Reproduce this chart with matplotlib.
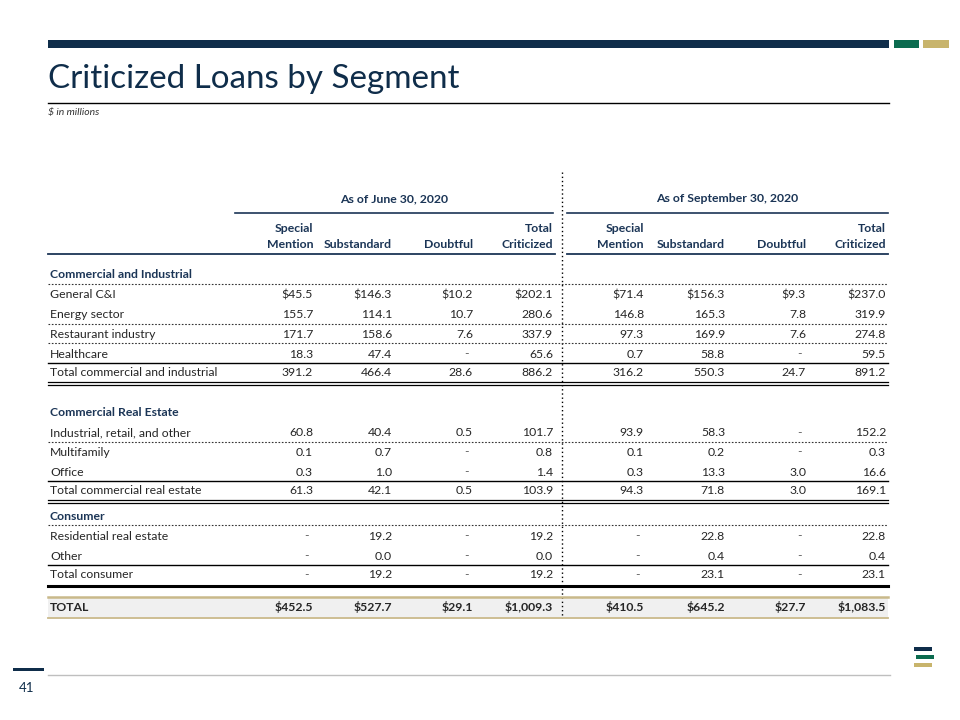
import matplotlib
matplotlib.use('Agg')
import matplotlib.pyplot as plt
from matplotlib.patches import Rectangle

plt.rcParams['font.family'] = ['Lato', 'DejaVu Sans']

# ---------------- data ----------------
title = "Criticized Loans by Segment"
subtitle = "$ in millions"
page_number = "41"
period_labels = ["As of June 30, 2020", "As of September 30, 2020"]
col_line1 = ["Special", "", "", "Total"]
col_line2 = ["Mention", "Substandard", "Doubtful", "Criticized"]

section_names = ["Commercial and Industrial", "Commercial Real Estate", "Consumer"]

ci_labels = ["General C&I", "Energy sector", "Restaurant industry", "Healthcare",
             "Total commercial and industrial"]
ci_jun_sm = [45.5, 155.7, 171.7, 18.3, 391.2]
ci_jun_sub = [146.3, 114.1, 158.6, 47.4, 466.4]
ci_jun_dbt = [10.2, 10.7, 7.6, None, 28.6]
ci_jun_tot = [202.1, 280.6, 337.9, 65.6, 886.2]
ci_sep_sm = [71.4, 146.8, 97.3, 0.7, 316.2]
ci_sep_sub = [156.3, 165.3, 169.9, 58.8, 550.3]
ci_sep_dbt = [9.3, 7.8, 7.6, None, 24.7]
ci_sep_tot = [237.0, 319.9, 274.8, 59.5, 891.2]

cre_labels = ["Industrial, retail, and other", "Multifamily", "Office",
              "Total commercial real estate"]
cre_jun_sm = [60.8, 0.1, 0.3, 61.3]
cre_jun_sub = [40.4, 0.7, 1.0, 42.1]
cre_jun_dbt = [0.5, None, None, 0.5]
cre_jun_tot = [101.7, 0.8, 1.4, 103.9]
cre_sep_sm = [93.9, 0.1, 0.3, 94.3]
cre_sep_sub = [58.3, 0.2, 13.3, 71.8]
cre_sep_dbt = [None, None, 3.0, 3.0]
cre_sep_tot = [152.2, 0.3, 16.6, 169.1]

con_labels = ["Residential real estate", "Other", "Total consumer"]
con_jun_sm = [None, None, None]
con_jun_sub = [19.2, 0.0, 19.2]
con_jun_dbt = [None, None, None]
con_jun_tot = [19.2, 0.0, 19.2]
con_sep_sm = [None, None, None]
con_sep_sub = [22.8, 0.4, 23.1]
con_sep_dbt = [None, None, None]
con_sep_tot = [22.8, 0.4, 23.1]

total_label = "TOTAL"
total_jun = [452.5, 527.7, 29.1, 1009.3]
total_sep = [410.5, 645.2, 27.7, 1083.5]

# ---------------- style ----------------
NAVY = '#0f2d4a'
GREEN = '#0b6b4f'
GOLD = '#c8b46c'
TEXT = '#262626'
HEAD = '#1b3556'
GOLDLINE = '#c9b98a'
BASE = 4.5  # baseline offset below row centre (pixels)

fig = plt.figure(figsize=(9.6, 7.2), dpi=100)
ax = fig.add_axes([0, 0, 1, 1])
ax.set_xlim(0, 960)
ax.set_ylim(720, 0)
ax.axis('off')
renderer = fig.canvas.get_renderer()


def fit_size(txt, target_w, **kw):
    t = ax.text(0, 0, txt, fontsize=20, **kw)
    w = t.get_window_extent(renderer).width
    t.remove()
    return 20 * target_w / w


def put(x, yc, s, ha='left', **kw):
    ax.text(x, yc + BASE, s, ha=ha, va='baseline', **kw)


# header band
ax.add_patch(Rectangle((48, 40), 841, 8, color=NAVY, lw=0))
ax.add_patch(Rectangle((894, 40), 25, 8, color=GREEN, lw=0))
ax.add_patch(Rectangle((923, 40), 26, 8, color=GOLD, lw=0))

tsize = fit_size(title, 412)
ax.text(48, 88, title, fontsize=tsize, color=NAVY, va='baseline', ha='left')
ax.plot([48, 889], [103, 103], color='black', lw=1)
ax.text(48, 113, subtitle, fontsize=7.5, style='italic', color='#333333', va='center', ha='left')

# body font size
bsize = fit_size("Total commercial and industrial", 168)

# columns
left_cols = [313, 392, 473, 553]
right_cols = [644, 725, 806, 886]
label_x = 50
sep_x = 562

# group headers
put((235 + 553) / 2, 198, period_labels[0], ha='center', fontsize=bsize, fontweight='bold', color=HEAD)
put((567 + 888) / 2, 198, period_labels[1], ha='center', fontsize=bsize, fontweight='bold', color=HEAD)
ax.plot([235, 553], [213, 213], color=HEAD, lw=1.2)
ax.plot([567, 888], [213, 213], color=HEAD, lw=1.2)
for cols in (left_cols, right_cols):
    for x, l1, l2 in zip(cols, col_line1, col_line2):
        if l1:
            put(x, 227, l1, ha='right', fontsize=bsize, fontweight='bold', color=HEAD)
        put(x, 243, l2, ha='right', fontsize=bsize, fontweight='bold', color=HEAD)
ax.plot([48, 555], [254, 254], color=HEAD, lw=1.3)
ax.plot([567, 888], [254, 254], color=HEAD, lw=1.3)

# vertical dotted separator
ax.plot([sep_x, sep_x], [172, 618], color='black', lw=1, linestyle=(0, (1, 2)))


def fmt(v, dollar=False):
    if v is None:
        return None
    s = f"{v:,.1f}"
    return ("$" + s) if dollar else s


def hline(y, kind):
    if kind == 'dot':
        ax.plot([48, 888], [y, y], color='#333333', lw=0.8, linestyle=(0, (1.5, 1.5)))
    elif kind == 'solid':
        ax.plot([48, 888], [y, y], color='black', lw=1)
    elif kind == 'double':
        ax.plot([48, 888], [y, y], color='black', lw=0.9)
        ax.plot([48, 888], [y + 3, y + 3], color='black', lw=0.9)
    elif kind == 'thick':
        ax.plot([48, 888], [y, y], color='black', lw=2.2)


def draw_row(y, label, jun, sep, dollar=False, bold=False):
    w = 'bold' if bold else 'normal'
    put(label_x, y, label, fontsize=bsize, color=TEXT, fontweight=w)
    for cols, vals in ((left_cols, jun), (right_cols, sep)):
        for x, v in zip(cols, vals):
            s = fmt(v, dollar)
            if s is None:
                put(x - 4, y, "-", ha='right', fontsize=bsize, color='#555555')
            else:
                put(x, y, s, ha='right', fontsize=bsize, color=TEXT, fontweight=w)


def section_header(y, name):
    put(label_x, y, name, fontsize=bsize, fontweight='bold', color=HEAD)


# ---- Commercial and Industrial
section_header(274, section_names[0])
ci_y = [294, 314, 333, 353, 372]
for i, y in enumerate(ci_y):
    draw_row(y, ci_labels[i],
             [ci_jun_sm[i], ci_jun_sub[i], ci_jun_dbt[i], ci_jun_tot[i]],
             [ci_sep_sm[i], ci_sep_sub[i], ci_sep_dbt[i], ci_sep_tot[i]],
             dollar=(i == 0))
hline(284, 'dot')
hline(323.5, 'dot')
hline(343, 'dot')
hline(362.5, 'solid')
hline(382, 'double')

# ---- Commercial Real Estate
section_header(412, section_names[1])
cre_y = [432, 451, 471, 490]
for i, y in enumerate(cre_y):
    draw_row(y, cre_labels[i],
             [cre_jun_sm[i], cre_jun_sub[i], cre_jun_dbt[i], cre_jun_tot[i]],
             [cre_sep_sm[i], cre_sep_sub[i], cre_sep_dbt[i], cre_sep_tot[i]])
hline(441.5, 'dot')
hline(480.5, 'solid')
hline(499.5, 'double')

# ---- Consumer
section_header(515, section_names[2])
con_y = [535, 555, 574]
for i, y in enumerate(con_y):
    draw_row(y, con_labels[i],
             [con_jun_sm[i], con_jun_sub[i], con_jun_dbt[i], con_jun_tot[i]],
             [con_sep_sm[i], con_sep_sub[i], con_sep_dbt[i], con_sep_tot[i]])
hline(525, 'dot')
hline(564.5, 'solid')
hline(585.5, 'thick')

# ---- TOTAL
ax.add_patch(Rectangle((48, 597), 840, 20, color='#f0f0f0', lw=0, zorder=0))
ax.plot([48, 888], [596.5, 596.5], color=GOLDLINE, lw=1.8)
ax.plot([48, 888], [617.5, 617.5], color=GOLDLINE, lw=1.3)
draw_row(606.5, total_label, total_jun, total_sep, dollar=True, bold=True)

# ---- footer
ax.add_patch(Rectangle((13, 668), 31, 3, color=NAVY, lw=0))
ax.text(27, 688, page_number, fontsize=9.5, color=NAVY, ha='center', va='center')
ax.plot([48, 890], [675, 675], color='#bfbfbf', lw=1)
ax.add_patch(Rectangle((914, 647), 18, 4, color=NAVY, lw=0))
ax.add_patch(Rectangle((916, 655), 18, 4, color=GREEN, lw=0))
ax.add_patch(Rectangle((914, 663), 18, 4, color=GOLD, lw=0))

fig.savefig('out.png', dpi=100, facecolor='white')
